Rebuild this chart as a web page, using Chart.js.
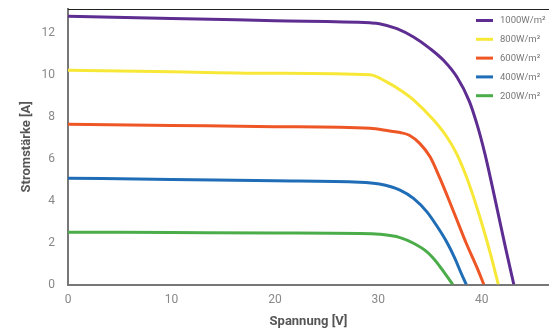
<!DOCTYPE html>
<html>
<head>
<meta charset="utf-8">
<script src="https://cdn.jsdelivr.net/npm/chart.js@4"></script>
<style>
  html, body { margin: 0; padding: 0; background: #fff; }
  #wrap { width: 549px; height: 334px; }
</style>
</head>
<body>
<div id="wrap"><canvas id="iv"></canvas></div>
<script>
// Irradiance levels (legend labels)
const labels = ["1000W/m²", "800W/m²", "600W/m²", "400W/m²", "200W/m²"];
const colors = ["#5e2d91", "#f7e838", "#ee5725", "#1f6db6", "#4bad4a"];

// Voltage [V] / current [A]
const voltage1000 = [0, 10, 20, 29.2, 30.1, 31.8, 33.4, 35.0, 36.3, 37.6, 38.8, 39.6, 40.3, 40.9, 41.6, 42.3, 43.1];
const current1000 = [12.81, 12.71, 12.6, 12.5, 12.46, 12.22, 11.82, 11.27, 10.71, 9.91, 8.75, 7.55, 6.25, 4.95, 3.35, 1.75, 0];

const voltage800 = [0, 10, 20, 29.2, 30.8, 32.4, 33.4, 35.3, 36.6, 37.6, 38.5, 39.3, 40.1, 40.9, 41.6];
const current800 = [10.23, 10.16, 10.09, 10.02, 9.68, 9.2, 8.82, 7.88, 7.07, 6.22, 5.17, 4.03, 2.76, 1.36, 0];

const voltage600 = [0, 10, 20, 29.2, 31.1, 32.1, 33.0, 34.0, 35.0, 35.9, 36.7, 37.6, 38.5, 39.5, 40.2];
const current600 = [7.66, 7.6, 7.54, 7.46, 7.33, 7.26, 7.13, 6.74, 6.1, 5.14, 4.19, 3.08, 1.97, 0.85, 0];

const voltage400 = [0, 10, 20, 28.2, 30.1, 32.1, 33.4, 34.7, 35.6, 36.6, 37.4, 38.0, 38.5];
const current400 = [5.08, 5.02, 4.95, 4.89, 4.8, 4.51, 4.11, 3.47, 2.84, 2.04, 1.25, 0.55, 0];

const voltage200 = [0, 10, 20, 28.2, 30.1, 32.1, 33.4, 34.7, 35.6, 36.4, 37.2];
const current200 = [2.5, 2.48, 2.46, 2.44, 2.4, 2.24, 1.97, 1.56, 1.09, 0.55, 0];

const voltages = [voltage1000, voltage800, voltage600, voltage400, voltage200];
const currents = [current1000, current800, current600, current400, current200];

const FONT = "Roboto, sans-serif";

const datasets = labels.map((lab, i) => ({
  label: lab,
  data: voltages[i].map((v, k) => ({ x: v, y: currents[i][k] })),
  borderColor: colors[i],
  backgroundColor: colors[i],
  borderWidth: 3,
  pointRadius: 0,
  cubicInterpolationMode: "monotone",
  fill: false,
}));

// top frame line + legend drawn inside the plot area
const framePlugin = {
  id: "frame",
  afterDraw(chart) {
    const { ctx, chartArea } = chart;
    ctx.save();
    ctx.strokeStyle = "#222";
    ctx.lineWidth = 1;
    ctx.beginPath();
    ctx.moveTo(chartArea.left, chartArea.top + 0.5);
    ctx.lineTo(chartArea.right, chartArea.top + 0.5);
    ctx.stroke();

    ctx.font = "9.5px " + FONT;
    ctx.textBaseline = "middle";
    ctx.fillStyle = "#777";
    chart.data.datasets.forEach((ds, i) => {
      const y = 20.5 + i * 18.8;
      ctx.strokeStyle = ds.borderColor;
      ctx.lineWidth = 3;
      ctx.beginPath();
      ctx.moveTo(476, y);
      ctx.lineTo(493, y);
      ctx.stroke();
      ctx.fillText(ds.label, 500, y + 0.5);
    });
    ctx.restore();
  },
};

new Chart(document.getElementById("iv"), {
  type: "line",
  data: { datasets },
  plugins: [framePlugin],
  options: {
    responsive: true,
    maintainAspectRatio: false,
    animation: false,
    layout: { padding: { top: 9, right: 0, left: 0, bottom: 0 } },
    plugins: {
      legend: { display: false },
      tooltip: { enabled: false },
    },
    scales: {
      x: {
        type: "linear",
        min: 0,
        max: 46.5,
        afterBuildTicks: (s) => { s.ticks = s.ticks.filter((t) => t.value % 10 === 0); },
        afterFit: (s) => { s.height = 49.5; s.paddingLeft = 0; s.paddingRight = 0; },
        grid: { display: false, drawTicks: false },
        border: { color: "#777", width: 2 },
        ticks: { stepSize: 10, color: "#888", font: { family: FONT, size: 12 }, padding: 8 },
        title: {
          display: true,
          text: "Spannung [V]",
          color: "#555",
          font: { family: FONT, size: 13, weight: "bold" },
          padding: { top: 13 },
        },
      },
      y: {
        min: 0,
        max: 13.16,
        afterBuildTicks: (s) => { s.ticks = s.ticks.filter((t) => t.value % 2 === 0); },
        afterFit: (s) => { s.width = 68; s.paddingTop = 0; s.paddingBottom = 0; },
        grid: { display: false, drawTicks: false },
        border: { color: "#777", width: 2 },
        ticks: { stepSize: 2, color: "#888", font: { family: FONT, size: 12 }, padding: 13 },
        title: {
          display: true,
          text: "Stromstärke [A]",
          color: "#555",
          font: { family: FONT, size: 13, weight: "bold" },
          padding: { top: 19, bottom: 0 },
        },
      },
    },
  },
});
</script>
</body>
</html>
